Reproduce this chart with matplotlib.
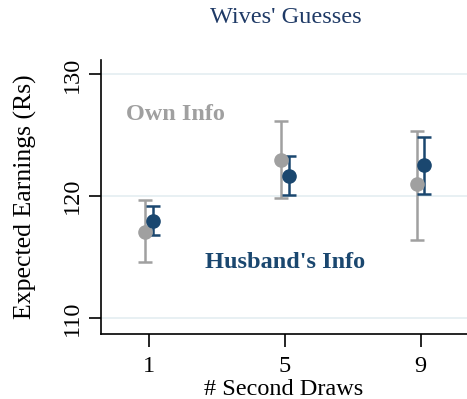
import numpy as np
import matplotlib
matplotlib.use("Agg")
import matplotlib.pyplot as plt

plt.rcParams['font.family'] = ['Liberation Serif', 'DejaVu Serif']

draws = [1, 5, 9]

# own information: mean and 95% CI bounds
own_mean = [117.1, 123.0, 121.0]
own_lo = [114.6, 119.9, 116.4]
own_hi = [119.7, 126.2, 125.4]

# husband's information
hus_mean = [118.0, 121.7, 122.6]
hus_lo = [116.8, 120.1, 120.2]
hus_hi = [119.2, 123.3, 124.9]

gray = '#a0a0a0'
navy = '#1a476f'
fs = 17.5

fig = plt.figure(figsize=(4.67, 3.99), dpi=100)
ax = fig.add_axes([0.2156, 0.163, 0.7844, 0.687])

def plot_series(means, lo, hi, offset, color):
    x = np.array(draws) + offset
    m = np.array(means)
    err = [m - np.array(lo), np.array(hi) - m]
    ax.errorbar(x, m, yerr=err, fmt='o', color=color, ecolor=color,
                markersize=9.5, elinewidth=1.8, capsize=5, capthick=1.8,
                zorder=3)

plot_series(own_mean, own_lo, own_hi, -0.11, gray)
plot_series(hus_mean, hus_lo, hus_hi, 0.11, navy)

ax.set_xlim(-0.43, 10.37)
ax.set_ylim(108.7, 131.2)
ax.set_xticks(draws)
ax.set_yticks([110, 120, 130])
for yv in [110, 120, 130]:
    ax.axhline(yv, color='#e6eff2', lw=1.3, zorder=0)

ax.spines['top'].set_visible(False)
ax.spines['right'].set_visible(False)
for s in ['left', 'bottom']:
    ax.spines[s].set_linewidth(1.2)
ax.tick_params(axis='both', length=9, width=1.2, labelsize=fs, colors='black')
ax.tick_params(axis='x', pad=7)
plt.setp(ax.get_yticklabels(), rotation=90, va='center')

ax.set_xlabel('# Second Draws', fontsize=fs, labelpad=1)
ax.set_ylabel('Expected Earnings (Rs)', fontsize=18.5, labelpad=18)
fig.text(0.611, 0.955, "Wives' Guesses", ha='center', va='center',
         fontsize=fs, color='#1f3a66')

ax.text(1.76, 126.7, 'Own Info', ha='center', va='center',
        fontsize=fs, fontweight='bold', color=gray)
ax.text(5.0, 114.6, "Husband's Info", ha='center', va='center',
        fontsize=fs, fontweight='bold', color=navy)

fig.savefig('out.png', dpi=100)
